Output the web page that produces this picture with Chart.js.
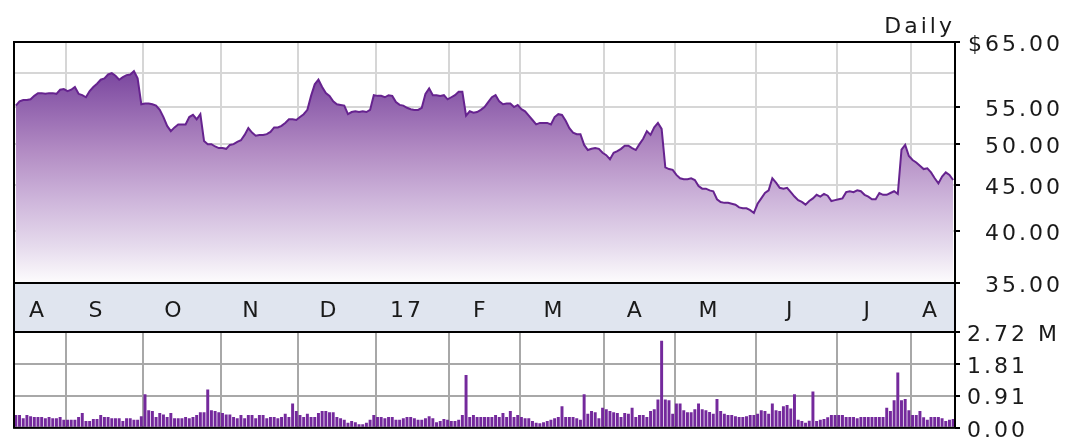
<!DOCTYPE html>
<html lang="en">
<head>
<meta charset="UTF-8">
<title>Daily price and volume</title>
<script src="https://cdn.jsdelivr.net/npm/chart.js"></script>
<style>
  body { margin: 0; background: #fff; }
  #wrap { position: relative; width: 1065px; height: 448px; overflow: hidden; }
  #priceChart { position: absolute; left: 0; top: 0; }
  #volumeChart { position: absolute; left: 0; top: 300px; }
</style>
</head>
<body>
<div id="wrap">
  <canvas id="priceChart" width="1065" height="332"></canvas>
  <canvas id="volumeChart" width="1065" height="148"></canvas>
</div>
<script>
// month letters along the band and how many trading days fall in each
const monthNames = ['A', 'S', 'O', 'N', 'D', '17', 'F', 'M', 'A', 'M', 'J', 'J', 'A'];
const monthDays = [14, 21, 21, 21, 21, 20, 19, 23, 19, 22, 22, 20, 12];

// daily closing price, $
const prices = [
  55.2, 55.8, 56.0, 56.0, 56.1, 56.6, 57.0, 57.0, 56.9, 57.0,
  57.0, 56.9, 57.5, 57.6, 57.3, 57.5, 57.9, 56.9, 56.7, 56.4,
  57.3, 57.9, 58.4, 59.0, 59.2, 59.8, 60.0, 59.6, 59.0, 59.4,
  59.7, 59.8, 60.3, 59.2, 55.4, 55.5, 55.5, 55.4, 55.2, 54.6,
  53.6, 52.4, 51.7, 52.2, 52.6, 52.6, 52.6, 53.6, 53.9, 53.3,
  54.0, 50.4, 50.0, 50.0, 49.7, 49.5, 49.5, 49.4, 49.9, 50.0,
  50.3, 50.5, 51.2, 52.1, 51.5, 51.1, 51.2, 51.2, 51.3, 51.6,
  52.2, 52.2, 52.4, 52.8, 53.3, 53.3, 53.2, 53.6, 54.0, 54.6,
  56.6, 58.3, 59.0, 57.9, 57.0, 56.6, 55.8, 55.4, 55.3, 55.2,
  54.0, 54.3, 54.4, 54.3, 54.4, 54.3, 54.6, 56.7, 56.6, 56.6,
  56.4, 56.7, 56.6, 55.7, 55.3, 55.2, 54.9, 54.7, 54.6, 54.6,
  54.9, 56.9, 57.7, 56.7, 56.7, 56.6, 56.7, 56.1, 56.4, 56.7,
  57.2, 57.2, 53.8, 54.4, 54.2, 54.3, 54.6, 55.0, 55.7, 56.4,
  56.7, 55.8, 55.4, 55.5, 55.5, 55.0, 55.3, 54.7, 54.4, 53.8,
  53.2, 52.6, 52.8, 52.8, 52.8, 52.6, 53.6, 54.0, 53.9, 53.1,
  52.1, 51.5, 51.3, 51.3, 49.9, 49.25, 49.4, 49.5, 49.4, 48.9,
  48.6, 48.1, 48.9, 49.1, 49.4, 49.8, 49.8, 49.5, 49.25, 50.0,
  50.7, 51.7, 51.2, 52.2, 52.8, 52.0, 47.1, 46.9, 46.8, 46.2,
  45.8, 45.7, 45.7, 45.8, 45.6, 44.9, 44.6, 44.6, 44.4, 44.3,
  43.4, 43.1, 43.0, 43.0, 42.9, 42.8, 42.5, 42.4, 42.4, 42.2,
  41.9, 42.9, 43.5, 44.1, 44.4, 45.8, 45.3, 44.7, 44.6, 44.7,
  44.2, 43.7, 43.3, 43.1, 42.8, 43.2, 43.5, 43.9, 43.7, 44.0,
  43.8, 43.2, 43.3, 43.4, 43.5, 44.2, 44.3, 44.2, 44.4, 44.3,
  43.9, 43.7, 43.4, 43.4, 44.1, 43.9, 43.9, 44.1, 44.3, 44.0,
  49.3, 49.9, 48.5, 48.0, 47.7, 47.3, 46.9, 47.0, 46.5, 45.8,
  45.2, 46.0, 46.5, 46.2, 45.6
];

// daily volume, millions of shares
const volume = [
  0.36, 0.36, 0.27, 0.36, 0.33, 0.31, 0.31, 0.31, 0.27, 0.31,
  0.27, 0.27, 0.31, 0.23, 0.23, 0.23, 0.23, 0.31, 0.42, 0.19,
  0.19, 0.25, 0.25, 0.36, 0.31, 0.31, 0.27, 0.27, 0.27, 0.19,
  0.27, 0.27, 0.23, 0.23, 0.33, 0.95, 0.50, 0.48, 0.31, 0.42,
  0.38, 0.31, 0.42, 0.27, 0.27, 0.27, 0.31, 0.27, 0.31, 0.36,
  0.44, 0.44, 1.09, 0.50, 0.48, 0.44, 0.42, 0.38, 0.38, 0.31,
  0.27, 0.36, 0.27, 0.36, 0.36, 0.27, 0.36, 0.36, 0.27, 0.31,
  0.31, 0.27, 0.31, 0.40, 0.31, 0.69, 0.48, 0.36, 0.31, 0.40,
  0.31, 0.31, 0.42, 0.48, 0.48, 0.44, 0.44, 0.31, 0.27, 0.23,
  0.14, 0.19, 0.16, 0.10, 0.10, 0.14, 0.23, 0.36, 0.31, 0.31,
  0.27, 0.31, 0.31, 0.23, 0.23, 0.27, 0.31, 0.31, 0.27, 0.23,
  0.23, 0.27, 0.33, 0.27, 0.16, 0.19, 0.25, 0.23, 0.19, 0.19,
  0.23, 0.36, 1.50, 0.31, 0.36, 0.31, 0.31, 0.31, 0.31, 0.31,
  0.36, 0.31, 0.42, 0.31, 0.48, 0.31, 0.36, 0.31, 0.27, 0.27,
  0.19, 0.14, 0.13, 0.16, 0.19, 0.23, 0.27, 0.31, 0.61, 0.31,
  0.31, 0.31, 0.27, 0.23, 0.95, 0.40, 0.48, 0.44, 0.27, 0.57,
  0.53, 0.48, 0.44, 0.42, 0.31, 0.42, 0.40, 0.57, 0.31, 0.36,
  0.36, 0.31, 0.48, 0.53, 0.80, 2.47, 0.80, 0.78, 0.40, 0.69,
  0.69, 0.50, 0.44, 0.44, 0.53, 0.69, 0.53, 0.50, 0.45, 0.40,
  0.82, 0.48, 0.40, 0.36, 0.36, 0.33, 0.31, 0.31, 0.33, 0.36,
  0.36, 0.40, 0.50, 0.48, 0.40, 0.69, 0.50, 0.48, 0.61, 0.65,
  0.55, 0.95, 0.23, 0.19, 0.14, 0.20, 1.03, 0.19, 0.23, 0.25,
  0.30, 0.36, 0.36, 0.36, 0.36, 0.31, 0.31, 0.31, 0.27, 0.31,
  0.31, 0.31, 0.31, 0.31, 0.31, 0.31, 0.57, 0.48, 0.78, 1.57,
  0.78, 0.82, 0.50, 0.36, 0.36, 0.48, 0.30, 0.23, 0.31, 0.31,
  0.31, 0.27, 0.19, 0.23, 0.25
];

const priceTicks = [35, 40, 45, 50, 55, 60, 65];
const volumeTicks = [0, 0.91, 1.81, 2.72];

// work out which day starts each month and which day carries its letter
const monthStart = new Set();
const monthLabelAt = {};
let dayCount = 0;
monthDays.forEach((n, m) => {
  if (m > 0) monthStart.add(dayCount);
  monthLabelAt[dayCount + Math.round(n * 0.4)] = monthNames[m];
  dayCount += n;
});
const days = Array.from({ length: dayCount }, (_, i) => i);

const labelFont = { family: 'DejaVu Sans', size: 22 };
const textColor = '#1a1a1a';
const bandColor = '#e0e5ef';
const bandHeight = 49;

// the old bitmap font is spaced out, so widen text a little
const spacing = {
  id: 'spacing',
  beforeDraw(chart) { chart.ctx.letterSpacing = '3px'; }
};

const priceFrame = {
  id: 'priceFrame',
  beforeDraw(chart) {
    const { ctx, chartArea: a } = chart;
    ctx.save();
    ctx.fillStyle = bandColor;
    ctx.fillRect(a.left, a.bottom, a.right - a.left, bandHeight);
    ctx.restore();
  },
  afterDatasetsDraw(chart) {
    const { ctx, chartArea: a } = chart;
    ctx.save();
    ctx.strokeStyle = '#000';
    ctx.lineWidth = 2;
    ctx.beginPath();
    ctx.moveTo(a.left, a.bottom + bandHeight);
    ctx.lineTo(a.left, a.top);
    ctx.lineTo(a.right, a.top);
    ctx.lineTo(a.right, a.bottom + bandHeight);
    ctx.moveTo(a.left, a.bottom);
    ctx.lineTo(a.right, a.bottom);
    ctx.stroke();
    ctx.fillStyle = textColor;
    ctx.font = '22px "DejaVu Sans"';
    ctx.textAlign = 'right';
    ctx.textBaseline = 'alphabetic';
    ctx.fillText('Daily', a.right, 33);
    ctx.restore();
  }
};

const volumeFrame = {
  id: 'volumeFrame',
  afterDatasetsDraw(chart) {
    const { ctx, chartArea: a } = chart;
    ctx.save();
    ctx.strokeStyle = '#000';
    ctx.lineWidth = 2;
    ctx.strokeRect(a.left, a.top, a.right - a.left, a.bottom - a.top);
    ctx.restore();
  }
};

function priceFill(context) {
  const area = context.chart.chartArea;
  if (!area) return 'rgba(0,0,0,0)';
  const g = context.chart.ctx.createLinearGradient(0, area.top, 0, area.bottom);
  g.addColorStop(0, '#6f3a96');
  g.addColorStop(0.15, '#7f4ca2');
  g.addColorStop(0.45, '#b28bc3');
  g.addColorStop(0.65, '#cdb4da');
  g.addColorStop(0.85, '#e6dbed');
  g.addColorStop(1, '#fdfcfd');
  return g;
}

new Chart(document.getElementById('priceChart'), {
  type: 'line',
  data: {
    labels: days,
    datasets: [{
      data: prices,
      borderColor: '#66238f',
      borderWidth: 2,
      backgroundColor: priceFill,
      fill: 'start',
      pointRadius: 0,
      tension: 0
    }]
  },
  options: {
    responsive: false,
    animation: false,
    layout: { padding: { left: 14, top: 42, right: 2, bottom: 0 } },
    plugins: { legend: { display: false }, tooltip: { enabled: false } },
    scales: {
      x: {
        offset: true,
        border: { display: false },
        grid: {
          offset: true,
          drawTicks: false,
          lineWidth: 2,
          color: c => monthStart.has(c.index) ? '#d6d6d6' : 'rgba(0,0,0,0)'
        },
        ticks: {
          autoSkip: false,
          maxRotation: 0,
          padding: 15,
          font: labelFont,
          color: textColor,
          callback: (v, i) => monthLabelAt[i] || ''
        },
        afterFit: s => { s.height = bandHeight; }
      },
      y: {
        type: 'logarithmic',
        position: 'right',
        min: 35,
        max: 65,
        border: { display: false },
        grid: {
          lineWidth: 2,
          color: '#d6d6d6',
          tickLength: 5,
          tickWidth: 2,
          tickColor: c => c.tick && c.tick.value === 60 ? 'rgba(0,0,0,0)' : '#000'
        },
        afterBuildTicks: s => { s.ticks = priceTicks.map(v => ({ value: v })); },
        ticks: {
          crossAlign: 'far',
          labelOffset: 3,
          font: labelFont,
          color: textColor,
          callback: v => v === 65 ? '$65.00' : (v === 60 ? '' : v.toFixed(2))
        },
        afterFit: s => { s.width = 108; }
      }
    }
  },
  plugins: [spacing, priceFrame]
});

new Chart(document.getElementById('volumeChart'), {
  type: 'bar',
  data: {
    labels: days,
    datasets: [{
      data: volume,
      backgroundColor: '#74299c',
      barPercentage: 0.8,
      categoryPercentage: 1
    }]
  },
  options: {
    responsive: false,
    animation: false,
    layout: { padding: { left: 14, top: 32, right: 2, bottom: 9 } },
    plugins: { legend: { display: false }, tooltip: { enabled: false } },
    scales: {
      x: {
        offset: true,
        border: { display: false },
        grid: {
          offset: true,
          drawTicks: false,
          lineWidth: 2,
          color: c => monthStart.has(c.index) ? '#a8a8a8' : 'rgba(0,0,0,0)'
        },
        ticks: { display: false },
        afterFit: s => { s.height = 0; }
      },
      y: {
        position: 'right',
        min: 0,
        max: 2.72,
        border: { display: false },
        grid: { lineWidth: 2, color: '#a8a8a8', tickLength: 5, tickWidth: 2, tickColor: '#000' },
        afterBuildTicks: s => { s.ticks = volumeTicks.map(v => ({ value: v })); },
        ticks: {
          padding: 7,
          labelOffset: 3,
          font: labelFont,
          color: textColor,
          callback: v => v === 2.72 ? '2.72 M' : v.toFixed(2)
        },
        afterFit: s => { s.width = 108; }
      }
    }
  },
  plugins: [spacing, volumeFrame]
});
</script>
</body>
</html>
